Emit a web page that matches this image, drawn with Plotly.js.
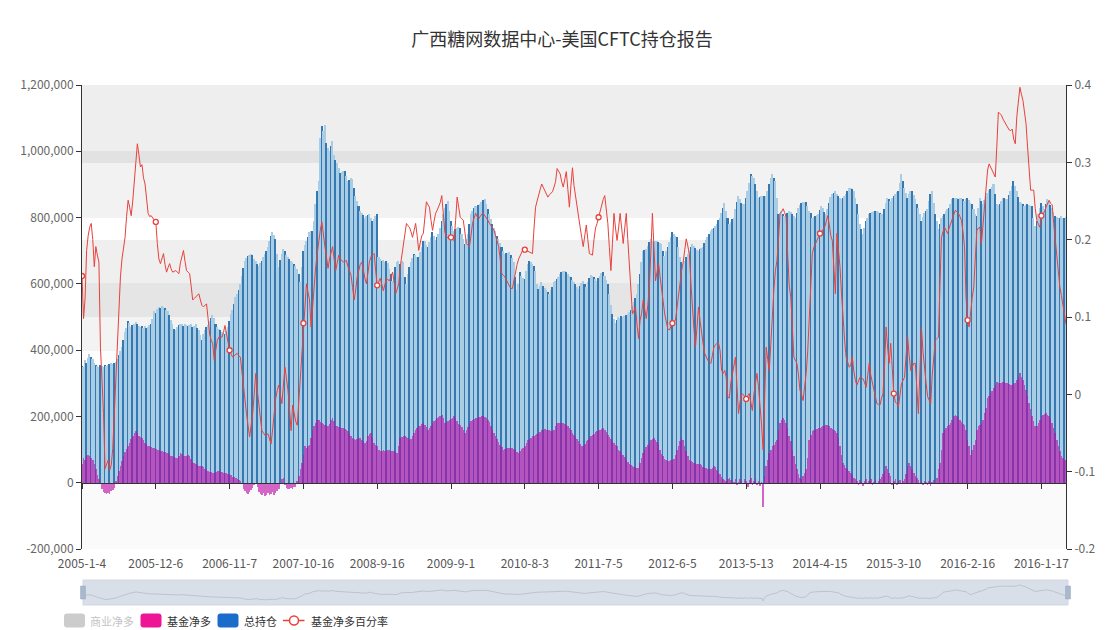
<!DOCTYPE html>
<html>
<head>
<meta charset="utf-8">
<script src="https://cdn.plot.ly/plotly-3.0.1.min.js"></script>
<style>
html,body{margin:0;padding:0;background:#fff;}
#chart{width:1105px;height:630px;}
</style>
</head>
<body>
<div id="chart"></div>
<script>
// ---- tick labels shown on the category axis (every 48th report) ----
const tickLabels = ["2005-1-4","2005-12-6","2006-11-7","2007-10-16","2008-9-16","2009-9-1","2010-8-3",
  "2011-7-5","2012-6-5","2013-5-13","2014-4-15","2015-3-10","2016-2-16","2016-1-17"];

// ---- 总持仓 (total open interest), thousands of contracts ----
const totalOI = [
352,348,370,362,375,388,380,372,360,355,
352,350,356,353,349,355,351,354,357,360,
358,362,365,372,385,398,410,430,455,468,
488,482,470,476,480,485,478,472,470,474,
468,472,466,470,475,480,495,517,512,525,
530,528,534,530,526,520,517,505,490,478,
465,460,470,476,480,478,474,480,476,472,
475,478,470,474,478,468,460,445,432,448,
462,470,476,488,496,505,498,480,470,465,
462,455,452,450,458,470,488,508,520,540,
560,570,580,600,625,648,670,678,684,688,
690,686,676,668,660,655,662,670,680,690,
700,712,730,745,757,748,735,690,650,672,
690,705,698,688,682,676,670,665,660,655,
645,630,605,650,700,718,730,742,755,758,
760,790,840,880,910,1040,1075,1060,1080,1025,
1010,1000,1015,1030,990,975,965,950,935,938,
940,942,925,910,912,918,915,890,865,850,
835,820,815,808,800,805,808,810,800,790,
795,805,810,680,675,668,672,666,670,662,
645,630,610,625,650,665,668,660,670,665,
620,600,630,650,665,678,690,686,682,680,
695,712,728,730,718,710,725,740,755,745,
732,740,750,768,790,812,828,840,850,820,
790,775,760,765,770,772,768,750,735,720,
735,750,780,810,820,828,835,836,838,842,
848,852,855,840,825,810,795,780,770,760,
745,735,722,710,700,690,692,694,695,688,
678,665,620,580,600,635,625,618,615,640,
660,670,665,660,655,640,600,585,595,605,
595,588,580,575,570,580,592,605,610,615,
622,630,636,640,638,635,630,625,620,612,
605,600,592,585,595,602,610,600,590,605,
618,628,625,620,615,610,618,625,632,635,
625,612,600,570,535,510,495,482,490,500,
498,502,500,504,505,510,515,520,532,545,
558,570,600,630,665,700,702,705,715,725,
735,730,725,728,730,725,722,720,700,685,
698,710,725,740,755,750,745,740,710,680,
665,655,668,680,690,700,710,720,715,708,
702,700,705,708,710,722,732,740,750,760,
765,770,775,780,792,800,815,830,845,820,
800,780,788,795,800,825,848,865,855,845,
842,840,860,880,905,930,925,920,900,880,
860,862,865,866,864,865,880,900,920,930,
920,910,860,810,815,820,812,805,810,815,
820,818,810,805,800,815,830,838,845,846,
847,848,835,820,815,800,802,805,808,810,
822,835,828,818,810,825,845,862,870,875,
880,872,865,860,855,860,865,872,880,888,
890,885,880,860,840,810,780,765,750,770,
790,800,810,815,818,820,820,820,818,815,
812,810,825,845,860,855,850,858,865,872,
876,880,905,930,910,890,875,860,870,880,
880,868,855,842,830,810,790,802,815,820,
825,850,870,880,845,810,790,765,782,800,
805,812,820,825,830,842,855,858,860,858,
855,858,860,855,850,855,860,852,845,840,
825,812,805,830,860,850,840,852,865,875,
882,885,892,900,870,840,838,840,850,860,
858,856,855,868,880,895,910,895,880,862,
848,845,840,835,838,840,838,836,835,800,
775,790,810,830,845,835,825,840,855,848,
838,830,818,805,802,800,800,805,798,800,802
];

// ---- 基金净多 (fund net long), thousands of contracts ----
const fundNet = [
55,75,70,80,85,82,75,68,55,40,
22,10,-5,-20,-28,-32,-35,-30,-33,-26,
-22,-15,5,20,35,50,65,80,92,102,
110,120,132,140,150,155,150,142,138,135,
128,120,116,112,110,108,106,105,103,100,
98,97,95,93,92,90,90,86,82,80,
78,76,75,80,90,86,82,80,82,85,
80,72,62,58,55,52,50,50,51,48,
42,38,35,33,32,30,30,32,34,35,
33,32,30,30,28,26,25,22,18,16,
15,10,8,5,-5,-18,-25,-30,-35,-28,
-22,-15,-8,-5,-12,-28,-35,-38,-32,-40,
-36,-30,-38,-34,-28,-36,-32,-25,-18,-5,
10,15,-8,-15,-20,-18,-16,-20,-14,-12,
5,20,40,60,85,110,105,110,115,135,
160,170,180,190,188,182,180,178,175,172,
170,178,188,195,185,172,170,168,166,165,
164,162,160,155,148,140,136,132,130,132,
134,135,130,125,120,125,140,148,150,135,
120,115,112,98,95,97,100,96,95,98,
100,97,95,96,94,90,110,135,138,140,
140,138,134,130,132,142,150,158,165,170,
172,176,180,175,168,160,165,172,180,185,
190,195,198,202,205,195,180,182,186,190,
192,196,200,195,185,178,175,168,160,150,
158,168,180,185,190,192,194,195,197,198,
200,200,198,195,190,182,172,160,150,140,
132,124,115,108,100,102,104,105,105,104,
105,103,98,92,90,96,102,105,112,120,
128,133,136,140,142,145,148,150,154,158,
160,161,160,160,158,156,155,160,170,180,
180,181,180,180,177,174,170,165,158,150,
144,138,132,125,118,112,110,118,125,130,
134,140,145,148,152,155,158,160,163,165,
160,152,145,138,132,126,120,115,110,100,
95,90,85,78,70,62,56,52,50,48,
46,45,45,60,75,90,100,108,115,122,
128,133,135,130,122,118,100,88,80,72,
68,65,66,68,70,72,85,98,110,125,
135,128,110,95,80,70,66,63,60,58,
57,56,55,52,48,45,44,42,40,42,
45,50,48,38,28,25,18,12,8,5,
12,15,8,-5,3,10,-8,2,12,6,
-5,10,4,-12,8,14,-6,5,10,-8,
6,-10,3,-72,20,50,70,90,100,110,
115,122,130,160,180,190,195,190,180,165,
140,125,100,80,55,40,25,15,12,20,
28,40,75,130,145,155,158,160,162,165,
165,168,170,172,174,175,170,165,162,160,
155,150,135,110,85,60,52,45,40,35,
30,22,15,10,5,-6,8,3,-10,6,
10,-5,4,12,-8,2,8,-4,6,12,
18,25,35,50,42,30,20,-6,5,10,
-8,4,8,-5,6,10,25,50,60,50,
40,30,20,15,8,-5,4,-8,6,2,
-6,5,-10,3,8,-4,15,40,60,100,
150,160,165,170,175,180,190,200,205,200,
195,190,182,178,175,160,130,110,85,100,
115,130,160,170,175,180,190,210,225,255,
262,270,278,285,295,305,302,300,302,305,
304,302,300,298,295,296,298,300,310,318,
330,318,310,295,280,262,240,222,200,185,
170,172,180,190,200,205,208,210,205,200,
192,180,165,150,130,110,95,80,75,70,68
];

// ---- 基金净多百分率 (fund net long as % of open interest) ----
const fundPct = [
15.3,9.8,12.4,18.6,20.5,21.6,22.1,20.0,16.5,19.1,
18.0,17.1,6.1,1.5,-2.5,-9.6,-9.0,-8.5,-9.8,-9.2,
-7.0,-2.5,1.0,5.3,10.0,15.2,17.5,19.0,20.3,23.0,
25.1,24.2,23.1,25.0,27.2,30.0,32.4,31.0,29.4,29.7,
28.0,27.2,25.0,23.4,23.0,23.1,22.8,22.5,22.3,19.5,
17.5,16.9,17.5,18.2,16.8,15.8,16.4,16.9,16.2,15.8,
15.9,16.0,15.8,15.6,17.0,18.0,18.6,17.2,16.0,15.8,
15.6,14.0,12.2,12.4,12.6,12.8,13.0,12.2,11.5,11.3,
11.5,11.7,9.8,7.8,7.0,6.6,4.4,5.5,7.0,7.4,
7.4,7.4,8.0,8.9,7.8,6.8,5.7,5.2,4.8,5.0,
5.2,5.3,5.0,4.8,3.0,0.9,-0.8,-2.5,-4.0,-5.5,
-4.0,-2.5,0.0,2.7,0.5,-1.2,-3.0,-4.7,-5.0,-5.3,
-5.2,-5.1,-5.8,-6.4,-4.5,-2.5,-0.5,0.5,1.2,0.0,
-1.2,1.2,3.5,2.0,0.5,-2.0,-4.7,-1.4,-2.5,-3.5,
-4.0,-1.0,2.2,5.5,9.2,12.0,14.3,13.2,12.2,8.7,
11.5,14.7,16.5,18.2,20.0,21.2,22.3,20.5,19.1,17.8,
16.3,17.5,18.3,19.1,17.5,16.0,17.0,18.0,17.5,17.3,
17.1,17.2,17.3,16.5,15.8,15.4,13.8,12.2,13.5,15.2,
16.0,16.8,17.1,15.8,15.0,14.3,15.8,17.2,17.8,18.0,
18.2,16.0,14.1,14.6,15.0,14.2,13.4,14.2,15.0,14.8,
14.7,15.2,15.8,14.5,13.0,13.6,14.3,16.5,18.0,19.1,
20.5,22.1,21.8,21.6,21.0,20.3,21.2,22.1,20.5,18.6,
19.6,20.5,20.8,23.0,24.9,24.5,24.2,22.5,21.2,22.4,
23.4,23.8,24.2,24.8,25.7,23.0,21.0,20.3,20.3,20.3,
20.3,20.0,19.9,22.5,25.5,24.2,22.9,22.7,22.5,21.0,
19.5,19.3,19.1,20.5,22.1,22.8,23.4,23.0,22.7,23.0,
23.3,23.4,23.1,22.9,22.5,22.1,21.8,21.5,21.2,20.5,
19.8,19.1,17.5,15.6,15.4,15.2,14.8,14.3,14.0,13.7,
13.7,14.8,16.0,16.8,17.5,18.0,18.4,18.8,18.7,18.6,
18.6,18.5,18.3,18.2,21.5,24.2,25.0,25.9,26.5,27.2,
26.8,26.4,26.0,25.5,25.8,26.0,26.2,26.8,27.5,29.2,
28.8,28.5,27.5,26.8,27.8,28.8,26.5,24.2,27.0,29.3,
27.0,25.5,24.4,23.0,21.6,20.3,19.1,20.5,21.9,20.0,
18.2,18.1,18.0,20.0,21.5,22.1,22.9,23.8,24.7,25.2,
25.7,24.0,22.1,19.0,16.0,19.5,23.4,21.5,19.9,21.5,
23.4,21.5,19.5,21.5,23.4,20.0,16.5,13.5,10.4,10.8,
11.3,9.0,7.2,9.6,10.5,12.2,11.0,9.8,11.5,13.9,
18.5,23.4,19.0,14.7,15.8,16.9,15.2,13.4,11.8,10.4,
9.4,8.5,8.3,8.8,9.2,9.4,9.6,11.2,13.0,15.0,
16.0,17.1,18.5,20.1,19.2,18.2,14.5,10.9,8.5,6.1,
8.8,11.3,9.5,7.8,6.5,5.3,4.8,4.4,4.2,4.0,
5.0,6.1,6.4,6.6,6.6,5.7,3.1,2.7,3.1,2.2,
-0.3,-0.5,1.5,2.7,4.0,4.8,1.0,-2.5,-1.0,0.1,
0.0,-0.3,-0.6,-0.2,0.1,-1.0,-2.1,0.0,1.5,2.7,
1.0,-1.2,-4.0,-7.2,0.0,6.1,4.5,3.1,6.5,10.4,
13.5,16.0,17.3,20.0,23.4,23.6,24.0,23.5,22.9,18.0,
14.0,12.6,8.0,4.8,4.4,4.0,2.5,0.5,0.0,-0.8,
1.0,2.7,5.5,10.4,14.5,18.2,19.0,19.5,19.9,20.5,
20.8,21.0,21.3,21.6,22.3,23.1,22.0,20.5,19.9,16.0,
13.0,20.8,18.5,16.5,13.0,9.6,7.0,4.8,4.0,3.5,
3.8,4.8,3.0,1.8,1.2,1.6,2.2,2.1,2.0,1.5,
0.9,2.4,4.0,2.5,1.5,0.9,0.0,-1.2,-1.3,-1.4,
-0.5,0.1,4.0,8.7,6.0,4.0,6.6,3.0,0.1,-1.0,
-1.2,-1.6,0.0,1.4,1.8,2.2,5.0,7.4,5.0,3.1,
3.5,4.0,4.0,1.0,-2.5,3.0,8.5,5.5,3.1,1.5,
-0.3,-0.8,-1.2,2.5,5.0,7.0,7.2,7.4,14.0,20.3,
21.0,21.6,21.2,20.8,21.5,22.1,22.8,23.4,23.8,23.6,
23.4,23.0,22.5,21.0,19.1,12.5,9.6,8.7,11.0,12.5,
13.9,17.5,21.2,21.5,21.6,19.5,22.0,25.1,27.5,29.0,
29.8,29.4,29.0,28.5,28.1,32.0,36.5,36.3,36.1,35.6,
35.2,34.8,34.4,34.2,34.1,34.3,33.0,32.4,35.9,38.0,
39.7,38.8,38.0,36.5,35.0,32.0,29.0,26.4,26.4,26.4,
24.0,22.5,22.0,21.6,23.1,23.4,23.6,24.2,24.6,25.1,
24.7,24.5,22.1,20.0,17.8,15.9,13.9,12.8,11.7,10.4,9.1
];

// ---- axis tick values and legend names ----
const leftTicks = [-200000,0,200000,400000,600000,800000,1000000,1200000];
const rightTicks = [-0.2,-0.1,0,0.1,0.2,0.3,0.4];
const rightTickText = ["-0.2","-0.1","0","0.1","0.2","0.3","0.4"];
const seriesNames = ["商业净多","基金净多","总持仓","基金净多百分率"];

// ---------------- build ----------------
const N = totalOI.length;
const idx = totalOI.map((_, i) => i);
const labelStep = 48;
const tickVals = tickLabels.map((_, k) => k * labelStep);
const total = totalOI.map(v => v * 1000);
const fund = fundNet.map(v => v * 1000);
const pct = fundPct.map(v => v / 100);

const W = 1105, H = 630, ML = 82, MR = 39, MT = 85, MB = 10;
const PW = W - ML - MR, PH = H - MT - MB;
const fx = p => (p - ML) / PW;
const fy = p => (H - MB - p) / PH;
const mainDom = [fy(549), 1];
const zeroPos = mainDom[0] + (200000 / 1400000) * (1 - mainDom[0]);

const FONT = '"Noto Sans CJK SC", "Microsoft YaHei", sans-serif';
const RED = '#e8413c';

const barColors = idx.map(i => (i % 3 === 0 ? '#3678b2' : '#aacde6'));
const markerOpacity = idx.map(i => (i % labelStep === 0 ? 1 : 0));

const traces = [
  // 总持仓 bars
  {type:'bar', x:idx, y:total, xaxis:'x', yaxis:'y', marker:{color:barColors, line:{width:0}},
   name:seriesNames[2], showlegend:false, hoverinfo:'skip'},
  // 基金净多 bars (translucent, over the total bars)
  {type:'bar', x:idx, y:fund, xaxis:'x', yaxis:'y', marker:{color:'rgba(185,10,165,0.62)', line:{width:0}},
   name:seriesNames[1], showlegend:false, hoverinfo:'skip'},
  // 基金净多百分率 line (right axis)
  {type:'scatter', mode:'lines+markers', x:idx, y:pct, xaxis:'x2', yaxis:'y2', name:seriesNames[3],
   line:{color:RED, width:1}, marker:{symbol:'circle', size:5, color:'#ffffff', opacity:markerOpacity,
   line:{color:RED, width:1.3}}, showlegend:false, hoverinfo:'skip'},
  // data-zoom shadow
  {type:'scatter', mode:'lines', x:idx, y:fund, xaxis:'x3', yaxis:'y3',
   line:{color:'#b4bcc8', width:0.8}, showlegend:false, hoverinfo:'skip'}
];

const bands = [[85,151,'#eeeeee'],[151,163,'#e2e2e2'],[163,218,'#f2f2f2'],[218,240,'#ffffff'],
  [240,283,'#efefef'],[283,317,'#e5e5e5'],[317,351,'#f3f3f3'],[351,393,'#fdfdfd'],
  [393,417,'#f0f0f0'],[417,483,'#f6f6f6'],[483,549,'#fafafa']];

const shapes = bands.map(b => ({type:'rect', xref:'paper', yref:'paper', x0:0, x1:1,
  y0:fy(b[1]), y1:fy(b[0]), fillcolor:b[2], line:{width:0}, layer:'below'}));
// slider box and handles
shapes.push({type:'rect', xref:'paper', yref:'paper', x0:fx(83), x1:fx(1068), y0:fy(605), y1:fy(580),
  fillcolor:'#d8dfe9', line:{color:'#d0d8e3', width:1}, layer:'below'});
shapes.push({type:'rect', xref:'paper', yref:'paper', x0:fx(80.5), x1:fx(85.5), y0:fy(599), y1:fy(586),
  fillcolor:'#a9b8cc', line:{color:'#98a9bf', width:0.5}, layer:'above'});
shapes.push({type:'rect', xref:'paper', yref:'paper', x0:fx(1065.5), x1:fx(1070.5), y0:fy(599), y1:fy(586),
  fillcolor:'#a9b8cc', line:{color:'#98a9bf', width:0.5}, layer:'above'});

// ---- legend drawn as shapes + text ----
function roundRect(x0, y0, x1, y1, r, color) {
  const P = (x, y) => fx(x) + ',' + fy(y);
  const d = 'M' + P(x0 + r, y0) + ' L' + P(x1 - r, y0) + ' Q' + P(x1, y0) + ' ' + P(x1, y0 + r) +
    ' L' + P(x1, y1 - r) + ' Q' + P(x1, y1) + ' ' + P(x1 - r, y1) + ' L' + P(x0 + r, y1) +
    ' Q' + P(x0, y1) + ' ' + P(x0, y1 - r) + ' L' + P(x0, y0 + r) + ' Q' + P(x0, y0) + ' ' + P(x0 + r, y0) + ' Z';
  return {type:'path', xref:'paper', yref:'paper', path:d, fillcolor:color, line:{width:0}, layer:'above'};
}
const LY = 620.5;
shapes.push(roundRect(64, LY - 7, 85, LY + 7, 3, '#cccccc'));
shapes.push(roundRect(140.5, LY - 7, 161.5, LY + 7, 3, '#ee1496'));
shapes.push(roundRect(217.5, LY - 7, 238.5, LY + 7, 3, '#1a6ccb'));
shapes.push({type:'line', xref:'paper', yref:'paper', x0:fx(283), x1:fx(304.5), y0:fy(LY), y1:fy(LY),
  line:{color:RED, width:1.5}, layer:'above'});
shapes.push({type:'circle', xref:'paper', yref:'paper', x0:fx(289.5), x1:fx(298.5), y0:fy(LY + 4.5), y1:fy(LY - 4.5),
  fillcolor:'#ffffff', line:{color:RED, width:1.5}, layer:'above'});

const legendText = [[89, seriesNames[0], '#c4c4c4'], [166, seriesNames[1], '#333'],
  [243, seriesNames[2], '#333'], [310, seriesNames[3], '#333']];
const annotations = legendText.map(t => ({xref:'paper', yref:'paper', x:fx(t[0]), y:fy(LY), xanchor:'left',
  yanchor:'middle', text:t[1], showarrow:false, borderpad:0, font:{family:FONT, size:11, color:t[2]}}));

const layout = {
  width:W, height:H,
  margin:{l:ML, r:MR, t:MT, b:MB, autoexpand:false},
  paper_bgcolor:'#ffffff', plot_bgcolor:'rgba(0,0,0,0)',
  font:{family:FONT, size:12, color:'#555'},
  title:{text:'广西糖网数据中心-美国CFTC持仓报告', x:562/W, xref:'container', xanchor:'center',
    y:1 - 40/H, yref:'container', yanchor:'middle', font:{family:FONT, size:18, color:'#333'}},
  barmode:'overlay', bargap:0,
  hovermode:false,
  showlegend:false,
  xaxis:{domain:[0,1], anchor:'y', range:[0, N-1], tickmode:'array', tickvals:tickVals, ticktext:tickLabels,
    showline:false, showgrid:false, zeroline:false, ticks:'outside', ticklen:4, tickcolor:'rgba(0,0,0,0)',
    tickfont:{family:FONT, size:12, color:'#555'}, fixedrange:true},
  xaxis2:{overlaying:'x', anchor:'free', position:zeroPos, range:[0, N-1], tickmode:'array', tickvals:tickVals,
    showticklabels:false, showline:true, linecolor:'#333', linewidth:1, ticks:'outside', ticklen:5, tickcolor:'#333',
    showgrid:false, zeroline:false, fixedrange:true},
  yaxis:{domain:mainDom, anchor:'x', range:[-200000, 1200000], tickmode:'array', tickvals:leftTicks,
    ticktext:leftTicks.map(v => v.toLocaleString('en-US')), showline:true, linecolor:'#333', linewidth:1,
    ticks:'outside', ticklen:5, tickcolor:'#333', showgrid:false, zeroline:false,
    tickfont:{family:FONT, size:12, color:'#666'}, fixedrange:true},
  yaxis2:{overlaying:'y', side:'right', anchor:'x2', range:[-0.2, 0.4], tickmode:'array', tickvals:rightTicks,
    ticktext:rightTickText, showline:true, linecolor:'#333', linewidth:1, ticks:'outside', ticklen:5,
    tickcolor:'#333', showgrid:false, zeroline:false, tickfont:{family:FONT, size:12, color:'#666'}, fixedrange:true},
  xaxis3:{domain:[0,1], anchor:'y3', range:[0, N-1], visible:false, fixedrange:true},
  yaxis3:{domain:[fy(605), fy(580)], anchor:'x3', range:[-172000, 456000], visible:false, fixedrange:true},
  shapes:shapes,
  annotations:annotations
};

Plotly.newPlot('chart', traces, layout, {displayModeBar:false, responsive:false});
</script>
</body>
</html>
